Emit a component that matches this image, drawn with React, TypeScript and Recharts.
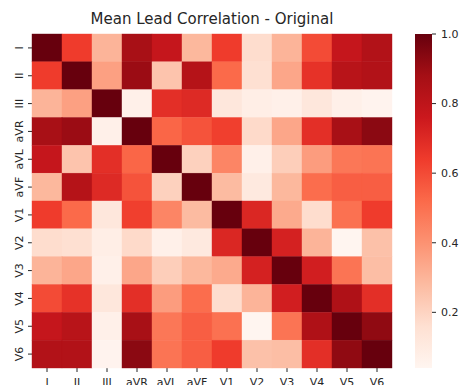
import {
  ScatterChart,
  Scatter,
  XAxis,
  YAxis,
  BarChart,
  Bar,
} from "recharts";

const LEADS = ["I", "II", "III", "aVR", "aVL", "aVF", "V1", "V2", "V3", "V4", "V5", "V6"];

// one row per lead, correlation with every lead in LEADS order
const ROW_I = [1.0, 0.64, 0.3, 0.87, 0.78, 0.29, 0.64, 0.17, 0.3, 0.6, 0.78, 0.84];
const ROW_II = [0.64, 1.0, 0.36, 0.9, 0.25, 0.83, 0.52, 0.16, 0.34, 0.67, 0.82, 0.84];
const ROW_III = [0.3, 0.36, 1.0, 0.07, 0.68, 0.7, 0.12, 0.08, 0.07, 0.12, 0.07, 0.05];
const ROW_AVR = [0.87, 0.9, 0.07, 1.0, 0.53, 0.58, 0.63, 0.18, 0.34, 0.68, 0.87, 0.93];
const ROW_AVL = [0.78, 0.25, 0.68, 0.53, 1.0, 0.21, 0.44, 0.07, 0.22, 0.37, 0.48, 0.49];
const ROW_AVF = [0.29, 0.83, 0.7, 0.58, 0.21, 1.0, 0.28, 0.11, 0.29, 0.51, 0.55, 0.55];
const ROW_V1 = [0.64, 0.52, 0.12, 0.63, 0.44, 0.28, 1.0, 0.71, 0.33, 0.17, 0.5, 0.64];
const ROW_V2 = [0.17, 0.16, 0.08, 0.18, 0.07, 0.11, 0.71, 1.0, 0.73, 0.3, 0.04, 0.26];
const ROW_V3 = [0.3, 0.34, 0.07, 0.34, 0.22, 0.29, 0.33, 0.73, 1.0, 0.74, 0.49, 0.27];
const ROW_V4 = [0.6, 0.67, 0.12, 0.68, 0.37, 0.51, 0.17, 0.3, 0.74, 1.0, 0.85, 0.68];
const ROW_V5 = [0.78, 0.82, 0.07, 0.87, 0.48, 0.55, 0.5, 0.04, 0.49, 0.85, 1.0, 0.92];
const ROW_V6 = [0.84, 0.84, 0.05, 0.93, 0.49, 0.55, 0.64, 0.26, 0.27, 0.68, 0.92, 1.0];

const ROWS = [ROW_I, ROW_II, ROW_III, ROW_AVR, ROW_AVL, ROW_AVF, ROW_V1, ROW_V2, ROW_V3, ROW_V4, ROW_V5, ROW_V6];

const COLORBAR_TICKS = [0.2, 0.4, 0.6, 0.8, 1.0];

// matplotlib "Reds"
const REDS = ["#fff5f0", "#fee0d2", "#fcbba1", "#fc9272", "#fb6a4a", "#ef3b2c", "#cb181d", "#a50f15", "#67000d"];

const VMIN = Math.min(...ROWS.flat());
const VMAX = Math.max(...ROWS.flat());

const FONT = "DejaVu Sans, sans-serif";
const TEXT = "#262626";

const CHART_W = 400;
const CHART_H = 385;
const MARGIN = { top: 34, right: 8, bottom: 0, left: 0 };
const Y_AXIS_W = 32;
const X_AXIS_H = 17;
const CELL_W = (CHART_W - MARGIN.left - MARGIN.right - Y_AXIS_W) / LEADS.length;
const CELL_H = (CHART_H - MARGIN.top - MARGIN.bottom - X_AXIS_H) / LEADS.length;

const hexToRgb = (h: string) => [1, 3, 5].map((i) => parseInt(h.slice(i, i + 2), 16));

function redColor(v: number) {
  let t = (v - VMIN) / (VMAX - VMIN);
  t = Math.max(0, Math.min(1, t));
  const pos = t * (REDS.length - 1);
  const i = Math.min(Math.floor(pos), REDS.length - 2);
  const f = pos - i;
  const a = hexToRgb(REDS[i]);
  const b = hexToRgb(REDS[i + 1]);
  const c = a.map((x, k) => Math.round(x + (b[k] - x) * f));
  return `rgb(${c[0]},${c[1]},${c[2]})`;
}

const cells = ROWS.flatMap((row, i) => row.map((v, j) => ({ x: j, y: i, v })));
const leadTicks = LEADS.map((_, i) => i);

const HeatCell = (props: any) => {
  const { cx, cy, payload } = props;
  const fill = redColor(payload.v);
  return (
    <rect
      x={cx - CELL_W / 2}
      y={cy - CELL_H / 2}
      width={CELL_W}
      height={CELL_H}
      fill={fill}
      stroke={fill}
      strokeWidth={0.4}
    />
  );
};

const RotatedTick = (props: any) => {
  const { x, y, payload } = props;
  return (
    <text
      x={x}
      y={y}
      transform={`rotate(-90, ${x}, ${y})`}
      textAnchor="middle"
      fontSize={11}
      fontFamily={FONT}
      fill={TEXT}
    >
      {LEADS[payload.value]}
    </text>
  );
};

export default function App() {
  return (
    <div style={{ position: "absolute", left: 0, top: 0, width: 462, height: 385, background: "#fff" }}>
      <div
        style={{
          position: "absolute",
          left: 0,
          width: 424,
          top: 9,
          textAlign: "center",
          fontFamily: FONT,
          fontSize: 15,
          color: TEXT,
          lineHeight: "20px",
        }}
      >
        Mean Lead Correlation - Original
      </div>
      <div style={{ position: "absolute", left: 0, top: 0 }}>
        <ScatterChart width={CHART_W} height={CHART_H} margin={MARGIN}>
          <XAxis
            type="number"
            dataKey="x"
            domain={[-0.5, LEADS.length - 0.5]}
            ticks={leadTicks}
            interval={0}
            height={X_AXIS_H}
            axisLine={false}
            tickSize={4}
            tickMargin={6}
            tickLine={{ stroke: TEXT }}
            tickFormatter={(i: number) => LEADS[i]}
            tick={{ fontSize: 11, fontFamily: FONT, fill: TEXT }}
          />
          <YAxis
            type="number"
            dataKey="y"
            domain={[-0.5, LEADS.length - 0.5]}
            reversed
            ticks={leadTicks}
            interval={0}
            width={Y_AXIS_W}
            axisLine={false}
            tickSize={4}
            tickMargin={5}
            tickLine={{ stroke: TEXT }}
            tick={<RotatedTick />}
          />
          <Scatter data={cells} shape={<HeatCell />} isAnimationActive={false} />
        </ScatterChart>
      </div>
      <div style={{ position: "absolute", left: 415, top: 0 }}>
        <BarChart
          width={47}
          height={CHART_H}
          data={[{ name: "cb", range: [VMIN, VMAX] }]}
          margin={{ top: MARGIN.top, right: 0, bottom: X_AXIS_H, left: 0 }}
          barCategoryGap={0}
        >
          <defs>
            <linearGradient id="redsGrad" x1="0" y1="1" x2="0" y2="0">
              {REDS.map((c, i) => (
                <stop key={c} offset={i / (REDS.length - 1)} stopColor={c} />
              ))}
            </linearGradient>
          </defs>
          <XAxis dataKey="name" hide />
          <YAxis
            orientation="right"
            type="number"
            domain={[VMIN, VMAX]}
            ticks={COLORBAR_TICKS}
            width={30}
            axisLine={false}
            tickSize={4}
            tickMargin={5}
            tickLine={{ stroke: TEXT }}
            tickFormatter={(v: number) => v.toFixed(1)}
            tick={{ fontSize: 11, fontFamily: FONT, fill: TEXT }}
          />
          <Bar dataKey="range" fill="url(#redsGrad)" isAnimationActive={false} />
        </BarChart>
      </div>
    </div>
  );
}
